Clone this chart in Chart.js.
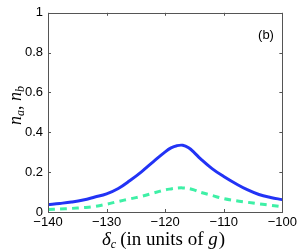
<!DOCTYPE html>
<html><head><meta charset="utf-8">
<script src="https://cdn.jsdelivr.net/npm/chart.js@4"></script>
<style>html,body{margin:0;padding:0;background:#fff}#wrap{width:300px;height:252px;position:relative}</style>
</head><body><div id="wrap"><canvas id="c" width="300" height="252"></canvas></div>
<script>
const deltaC = [-140,-138,-136,-134,-132,-130,-128,-126,-124,-122,-120,-119,-118,-117,-116,-115,-114,-112,-110,-108,-106,-104,-102,-100];
const nA = [0.037,0.043,0.050,0.060,0.075,0.091,0.118,0.158,0.203,0.253,0.302,0.322,0.333,0.335,0.322,0.297,0.268,0.218,0.178,0.143,0.112,0.088,0.073,0.062];
const nB = [0.012,0.015,0.018,0.022,0.028,0.039,0.053,0.066,0.079,0.095,0.111,0.116,0.12,0.121,0.118,0.110,0.099,0.083,0.067,0.057,0.049,0.041,0.034,0.027];
const xTicks = [-140,-130,-120,-110,-100];
const yTicks = [0,0.2,0.4,0.6,0.8,1];
const panelLabel = "(b)";

const frameColor = '#555';
const boxPlugin = {
  id: 'box',
  afterDraw(chart) {
    const {ctx, chartArea: a, scales: {x, y}} = chart;
    ctx.save();
    ctx.strokeStyle = frameColor; ctx.lineWidth = 1;
    ctx.strokeRect(Math.round(a.left)+0.5, Math.round(a.top)+0.5, Math.round(a.right-a.left), Math.round(a.bottom-a.top));
    const L = 3;
    ctx.beginPath();
    xTicks.forEach(v => { const px = Math.round(x.getPixelForValue(v))+0.5;
      ctx.moveTo(px, a.bottom); ctx.lineTo(px, a.bottom-L);
      ctx.moveTo(px, a.top); ctx.lineTo(px, a.top+L); });
    yTicks.forEach(v => { const py = Math.round(y.getPixelForValue(v))+0.5;
      ctx.moveTo(a.left, py); ctx.lineTo(a.left+L, py);
      ctx.moveTo(a.right, py); ctx.lineTo(a.right-L, py); });
    ctx.stroke();
    ctx.fillStyle = '#000';
    ctx.font = '13px "Liberation Sans", Arial, sans-serif';
    ctx.textAlign = 'center'; ctx.textBaseline = 'middle';
    ctx.fillText(panelLabel, 266, 35);
    ctx.textAlign = 'left'; ctx.textBaseline = 'alphabetic';
    const F = 19;
    let cx = 102; const by = 245;
    ctx.font = `italic ${F}px "Liberation Serif", serif`;
    ctx.fillText('δ', cx, by); cx += ctx.measureText('δ').width;
    ctx.font = 'italic 12px "Liberation Serif", serif';
    ctx.fillText('c', cx, by+3); cx += ctx.measureText('c').width + 4;
    ctx.font = `${F}px "Liberation Serif", serif`;
    ctx.fillText('(in units of ', cx, by); cx += ctx.measureText('(in units of ').width;
    ctx.font = `italic ${F}px "Liberation Serif", serif`;
    ctx.fillText('g', cx, by); cx += ctx.measureText('g').width + 1;
    ctx.font = `${F}px "Liberation Serif", serif`;
    ctx.fillText(')', cx, by);
    ctx.translate(21, 125); ctx.rotate(-Math.PI/2);
    let yx = 0;
    ctx.font = 'italic 18px "Liberation Serif", serif';
    ctx.fillText('n', yx, 0); yx += ctx.measureText('n').width;
    ctx.font = 'italic 12px "Liberation Serif", serif';
    ctx.fillText('a', yx, 3); yx += ctx.measureText('a').width;
    ctx.font = '18px "Liberation Serif", serif';
    ctx.fillText(', ', yx, 0); yx += ctx.measureText(', ').width;
    ctx.font = 'italic 18px "Liberation Serif", serif';
    ctx.fillText('n', yx, 0); yx += ctx.measureText('n').width;
    ctx.font = 'italic 12px "Liberation Serif", serif';
    ctx.fillText('b', yx, 3);
    ctx.restore();
  }
};

const fmtX = v => v < 0 ? '\u2212' + Math.abs(v) : String(v);
const fmtY = v => (v === 0 || v === 1) ? String(v) : v.toFixed(1);
const tickFont = { family: '"Liberation Sans", Arial, sans-serif', size: 13 };

new Chart(document.getElementById('c'), {
  type: 'line',
  data: {
    datasets: [
      { data: deltaC.map((x,i)=>({x, y:nA[i]})), borderColor: '#2233f5', borderWidth: 3, pointRadius: 0, tension: 0.4, fill: false },
      { data: deltaC.map((x,i)=>({x, y:nB[i]})), borderColor: '#3ef0a6', borderWidth: 3, borderDash: [7,5], pointRadius: 0, tension: 0.4, fill: false }
    ]
  },
  options: {
    responsive: false, animation: false, devicePixelRatio: 1,
    layout: { padding: { top: 10, right: 13, left: 0, bottom: 0 } },
    plugins: { legend: { display: false }, tooltip: { enabled: false } },
    scales: {
      x: { type: 'linear', min: -140, max: -100,
        afterBuildTicks: s => { s.ticks = xTicks.map(v => ({value: v})); },
        afterFit: s => { s.height = 40; },
        grid: { display: false, drawTicks: false }, border: { display: false },
        ticks: { callback: fmtX, color: '#000', padding: 3, maxRotation: 0, autoSkip: false, font: tickFont } },
      y: { min: 0, max: 1,
        afterBuildTicks: s => { s.ticks = yTicks.map(v => ({value: v})); },
        afterFit: s => { s.width = 48; },
        grid: { display: false, drawTicks: false }, border: { display: false },
        ticks: { callback: fmtY, color: '#000', padding: 5, font: tickFont } }
    }
  },
  plugins: [boxPlugin]
});
</script></body></html>
